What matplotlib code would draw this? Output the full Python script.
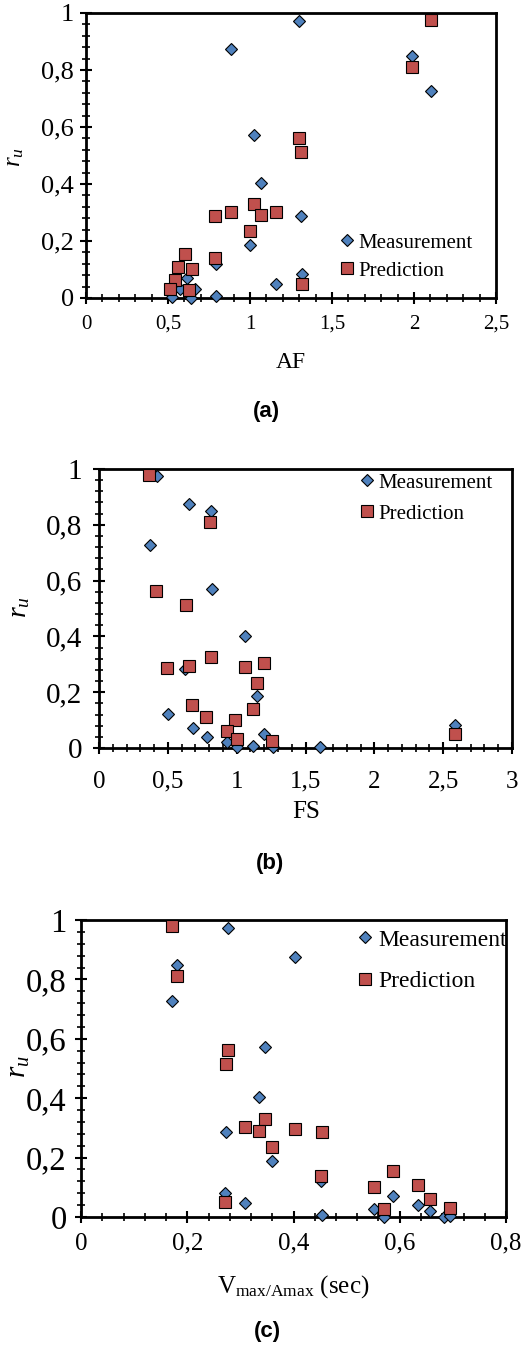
import matplotlib
matplotlib.use('Agg')
import matplotlib.pyplot as plt
from matplotlib.ticker import MultipleLocator, FuncFormatter

plt.rcParams['font.family'] = ['Liberation Serif', 'DejaVu Serif']
plt.rcParams['mathtext.fontset'] = 'custom'
plt.rcParams['mathtext.rm'] = 'Liberation Serif'
plt.rcParams['mathtext.it'] = 'Liberation Serif:italic'

# --- data ---
# (a) r_u vs AF
af_meas = [1.296, 0.883, 1.987, 2.105, 1.027, 1.070, 1.312, 0.997, 0.790, 1.318, 1.159, 0.790, 0.614, 0.665, 0.525, 0.640, 0.573]
ru_meas_a = [0.972, 0.875, 0.848, 0.727, 0.572, 0.404, 0.286, 0.187, 0.120, 0.084, 0.049, 0.008, 0.070, 0.030, 0.002, 0.000, 0.030]
af_pred = [2.105, 1.987, 1.298, 1.312, 1.027, 0.787, 0.883, 1.068, 1.159, 0.997, 0.787, 0.604, 0.563, 0.649, 0.543, 0.513, 0.629, 1.318]
ru_pred_a = [0.977, 0.809, 0.560, 0.513, 0.330, 0.286, 0.300, 0.292, 0.303, 0.236, 0.140, 0.154, 0.109, 0.102, 0.064, 0.032, 0.027, 0.050]

# (b) r_u vs FS
fs_meas = [0.422, 0.652, 0.810, 0.369, 0.820, 1.060, 0.628, 1.150, 0.502, 0.684, 0.781, 1.200, 0.931, 0.999, 1.120, 1.261, 1.606, 2.588]
ru_meas_b = [0.974, 0.876, 0.848, 0.726, 0.571, 0.402, 0.282, 0.188, 0.122, 0.073, 0.038, 0.049, 0.020, 0.002, 0.008, 0.002, 0.005, 0.083]
fs_pred = [0.361, 0.805, 0.412, 0.635, 0.817, 0.652, 0.497, 1.060, 1.198, 1.150, 1.116, 0.679, 0.776, 0.987, 0.931, 1.004, 1.256, 2.588]
ru_pred_b = [0.980, 0.810, 0.561, 0.513, 0.327, 0.295, 0.286, 0.292, 0.304, 0.234, 0.139, 0.154, 0.110, 0.100, 0.062, 0.031, 0.025, 0.050]

# (c) r_u vs Vmax/Amax
v_meas = [0.276, 0.403, 0.181, 0.171, 0.347, 0.335, 0.273, 0.359, 0.452, 0.271, 0.309, 0.453, 0.551, 0.570, 0.587, 0.634, 0.657, 0.684, 0.695]
ru_meas_c = [0.972, 0.877, 0.849, 0.728, 0.572, 0.404, 0.286, 0.187, 0.120, 0.081, 0.047, 0.008, 0.028, 0.000, 0.072, 0.039, 0.021, 0.000, 0.002]
v_pred = [0.171, 0.180, 0.276, 0.273, 0.347, 0.308, 0.335, 0.403, 0.453, 0.359, 0.452, 0.587, 0.551, 0.634, 0.657, 0.570, 0.695, 0.271]
ru_pred_c = [0.980, 0.810, 0.561, 0.515, 0.330, 0.303, 0.291, 0.297, 0.286, 0.235, 0.137, 0.154, 0.101, 0.109, 0.062, 0.027, 0.030, 0.049]

W, H = 530, 1350
fig = plt.figure(figsize=(W / 100, H / 100), dpi=100)


def px(x, y):
    return x / W, 1 - y / H


def comma_fmt(v, pos):
    return ('%g' % round(v, 6)).replace('.', ',')


def make_panel(box, xm, ym, xp, yp, xmax, xmajor, xminor, sizes, pads, leg, xlabel, xlab_pos, ylab_pos, tag, tag_pos):
    left, top, right, bottom = box
    ax = fig.add_axes([left / W, 1 - bottom / H, (right - left) / W, (bottom - top) / H])
    ytick_fs, xtick_fs, xlab_fs, leg_fs, ylab_fs = sizes
    ax.plot(xm, ym, ls='none', marker='D', ms=6.4, mfc='#4F81BD', mec='black', mew=0.8,
            clip_on=False, zorder=5, label='Measurement')
    ax.plot(xp, yp, ls='none', marker='s', ms=8.6, mfc='#C0504D', mec='black', mew=0.8,
            clip_on=False, zorder=6, label='Prediction')
    ax.set_xlim(0, xmax)
    ax.set_ylim(0, 1)
    ax.xaxis.set_major_locator(MultipleLocator(xmajor))
    ax.xaxis.set_minor_locator(MultipleLocator(xminor))
    ax.yaxis.set_major_locator(MultipleLocator(0.2))
    ax.yaxis.set_minor_locator(MultipleLocator(0.04))
    ax.xaxis.set_major_formatter(FuncFormatter(comma_fmt))
    ax.yaxis.set_major_formatter(FuncFormatter(comma_fmt))
    for s in ax.spines.values():
        s.set_linewidth(2)
    ax.tick_params(which='major', direction='inout', length=8.5, width=1.5)
    ax.tick_params(which='minor', direction='inout', length=5.5, width=1.2)
    ax.tick_params(axis='y', which='major', labelsize=ytick_fs, pad=pads[0])
    ax.tick_params(axis='x', which='major', labelsize=xtick_fs, pad=pads[1])

    lx, ly, spacing = leg
    ax.legend(loc='upper left', bbox_to_anchor=px(lx, ly), bbox_transform=fig.transFigure,
              frameon=False, fontsize=leg_fs, handlelength=0.8, handletextpad=0.15,
              borderpad=0, borderaxespad=0, labelspacing=spacing, numpoints=1)

    fig.text(*px(*xlab_pos), xlabel, ha='center', va='center', fontsize=xlab_fs)
    fig.text(*px(*ylab_pos), '$r_u$', ha='center', va='center', rotation=90, fontsize=ylab_fs)
    fig.text(*px(*tag_pos), tag, ha='center', va='center', fontsize=16, fontweight='bold',
             family=['Liberation Sans', 'DejaVu Sans'])
    return ax


make_panel((86, 13, 496, 298), af_meas, ru_meas_a, af_pred, ru_pred_a,
           2.5, 0.5, 0.1, (19, 15, 17, 15, 18), (4.5, 8), (339, 233, 0.4),
           'AF', (291, 362), (15, 157), '(a)', (266, 412))

make_panel((99, 469, 512, 748), fs_meas, ru_meas_b, fs_pred, ru_pred_b,
           3, 0.5, 0.1, (21, 18, 18, 15, 20), (8, 12), (359, 473, 0.55),
           'FS', (306, 812), (20, 607), '(b)', (270, 863))

make_panel((81, 920, 506, 1217), v_meas, ru_meas_c, v_pred, ru_pred_c,
           0.8, 0.2, 0.04, (23.5, 18, 18, 17, 21), (6, 7), (356, 929, 0.85),
           r'V$_{\mathrm{max/Amax}}$ (sec)', (293, 1287), (19, 1067), '(c)', (267, 1332))

fig.savefig('out.png', dpi=100)
